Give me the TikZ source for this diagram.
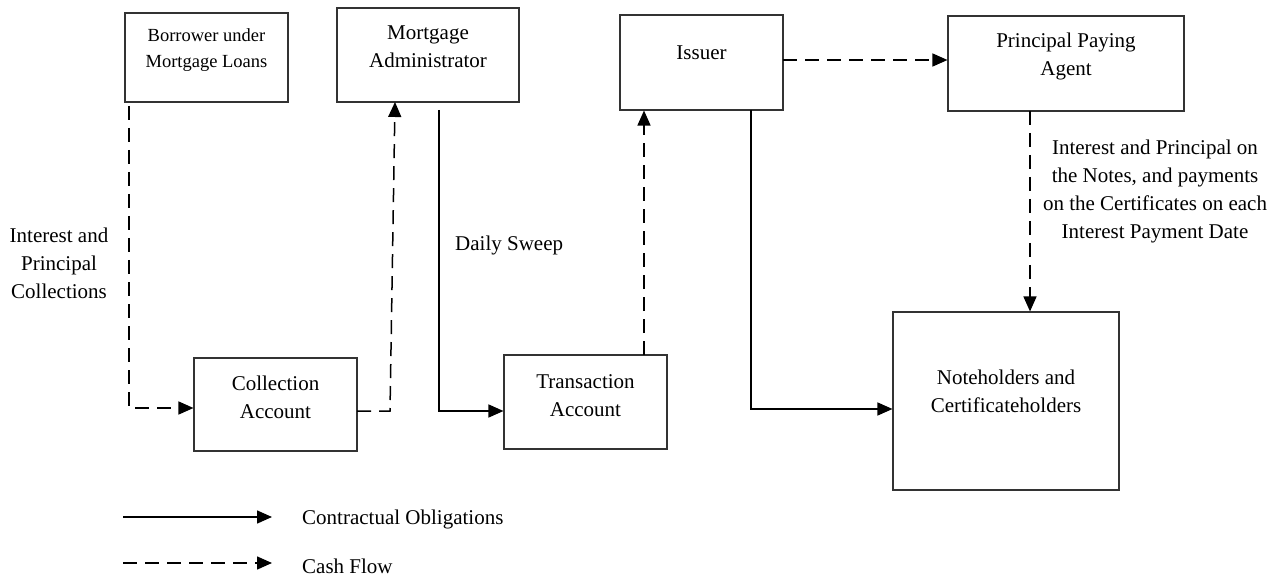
\documentclass[tikz,border=0pt]{standalone}
\usepackage{fontspec}
\setmainfont{Liberation Serif}
\usetikzlibrary{arrows.meta,calc}

\tikzset{
  box/.style={draw=black!80, line width=1.1pt, inner sep=0pt, rectangle},
  txt/.style={align=center, inner sep=0pt, font=\fontsize{21}{28}\selectfont},
  smalltxt/.style={align=center, inner sep=0pt, font=\fontsize{18.5}{26}\selectfont},
  flow/.style={line width=1.5pt, -{Triangle[length=15pt,width=13pt]}},
  contract/.style={flow},
  cash/.style={flow, dash pattern=on 14pt off 8pt},
}

\begin{document}
\begin{tikzpicture}[x=1pt, y=-1pt]
\useasboundingbox (0,0) rectangle (1287,577);

% parties and accounts
\node[box, minimum width=163pt, minimum height=89pt] (borrower) at (206.5,57.5) {};
\node[box, minimum width=182pt, minimum height=94pt] (admin) at (428,55) {};
\node[box, minimum width=163pt, minimum height=95pt] (issuer) at (701.5,62.5) {};
\node[box, minimum width=236pt, minimum height=95pt] (ppa) at (1066,63.5) {};
\node[box, minimum width=163pt, minimum height=93pt] (collection) at (275.5,404.5) {};
\node[box, minimum width=163pt, minimum height=94pt] (transaction) at (585.5,402) {};
\node[box, minimum width=226pt, minimum height=178pt] (holders) at (1006,401) {};

% box captions
\node[smalltxt] (tborrower) at (206.5,50) {Borrower under\\Mortgage Loans};
\node[txt] (tadmin) at (428,46.5) {Mortgage\\Administrator};
\node[txt] (tissuer) at (701.5,53) {Issuer};
\node[txt] (tppa) at (1066,56) {Principal Paying\\Agent};
\node[txt] (tcollection) at (275.5,397.5) {Collection\\Account};
\node[txt] (ttransaction) at (585.5,396) {Transaction\\Account};
\node[txt] (tholders) at (1006,391) {Noteholders and\\Certificateholders};

% connector labels
\node[txt] (lcollect) at (59,263.5) {Interest and\\Principal\\Collections};
\node[txt, anchor=west] (lsweep) at (455,245) {Daily Sweep};
\node[txt] (lpay) at (1155,191) {Interest and Principal on\\the Notes, and payments\\on the Certificates on each\\Interest Payment Date};

% borrower -> collection account
\coordinate (b1) at (129,106);
\coordinate (b2) at (129,408);
\draw[cash] (b1) -- (b2) -- (b2 -| collection.west);

% collection account -> mortgage administrator
\coordinate (c1) at (357,411);
\coordinate (c2) at (390,411);
\coordinate (c3) at (395,102);
\draw[cash] (c1) -- (c2) -- (c3);

% daily sweep: administrator -> transaction account
\coordinate (s1) at (439,110);
\coordinate (s2) at (439,411);
\draw[contract] (s1) -- (s2) -- (s2 -| transaction.west);

% transaction account -> issuer
\coordinate (t1) at (644,355);
\draw[cash] (t1) -- (t1 |- issuer.south);

% issuer -> noteholders
\coordinate (i1) at (751,110);
\coordinate (i2) at (751,409);
\draw[contract] (i1) -- (i2) -- (i2 -| holders.west);

% issuer -> principal paying agent
\coordinate (i3) at (783,60);
\draw[cash] (i3) -- (i3 -| ppa.west);

% principal paying agent -> noteholders
\coordinate (p1) at (1030,111);
\draw[cash] (p1) -- (p1 |- holders.north);

% legend
\coordinate (k1) at (123,517);
\coordinate (k2) at (272,517);
\coordinate (k3) at (123,563);
\coordinate (k4) at (272,563);
\draw[contract] (k1) -- (k2);
\draw[cash] (k3) -- (k4);
\node[txt, anchor=west] (lcontract) at (302,519) {Contractual Obligations};
\node[txt, anchor=west] (lcash) at (302,566) {Cash Flow};
\end{tikzpicture}
\end{document}
